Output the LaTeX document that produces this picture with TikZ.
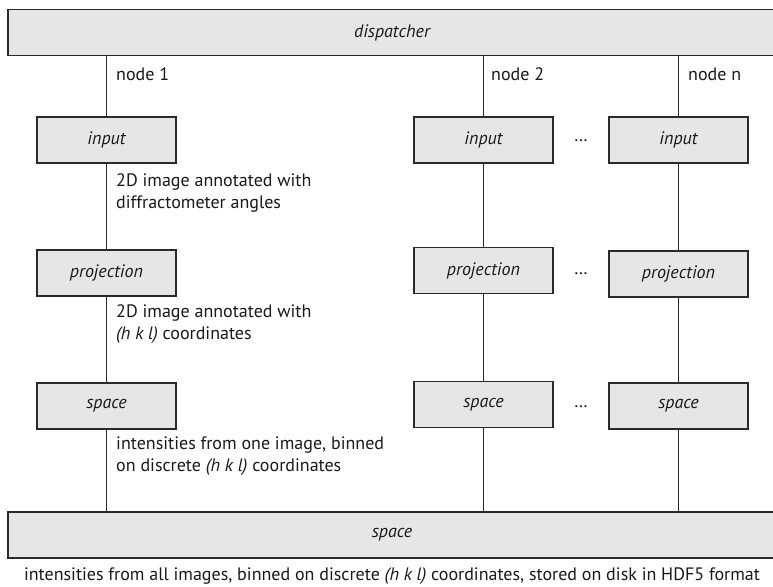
\documentclass[tikz,border=0pt]{standalone}
\usepackage{fontspec}
\setmainfont{PT Sans}
\definecolor{boxfill}{HTML}{E6E6E6}
\definecolor{linec}{HTML}{2A2A2A}
\definecolor{txt}{HTML}{1A1A1A}
\begin{document}
\begin{tikzpicture}[x=1pt,y=-1pt,
  font=\fontsize{18}{21.5}\selectfont,
  stagebox/.style={draw=linec, fill=boxfill, line width=1.15pt, minimum width=139pt, minimum height=46pt, inner sep=0pt, font=\fontsize{18}{21.5}\selectfont\itshape, text=txt},
  widebox/.style={stagebox, minimum width=768pt},
  conn/.style={draw=linec, line width=1.15pt},
  note/.style={anchor=west, align=left, inner sep=0pt, text=txt},
  dots/.style={inner sep=0pt, text=txt}]
\useasboundingbox (0,0) rectangle (773,586);
\clip (0,0) rectangle (773,586);
\fill[white] (0,0) rectangle (773,586);

\node[widebox] (disp) at (392,32.5) {dispatcher};
\node[stagebox] (in1) at (106.5,140) {input};
\node[stagebox] (in2) at (483.5,140) {input};
\node[stagebox] (inn) at (678.5,140) {input};
\node[stagebox] (pr1) at (106.5,273) {projection};
\node[stagebox] (pr2) at (483.5,270.5) {projection};
\node[stagebox] (prn) at (678.5,274) {projection};
\node[stagebox] (sp1) at (106.5,406) {space};
\node[stagebox] (sp2) at (483.5,404.5) {space};
\node[stagebox] (spn) at (678.5,406) {space};
\node[widebox] (all) at (392,535) {space};

\foreach \c in {1,2,n}{
  \draw[conn] (disp.south -| in\c.north) -- (in\c.north);
  \draw[conn] (in\c.south) -- (pr\c.north -| in\c.south);
  \draw[conn] (pr\c.south) -- (sp\c.north -| pr\c.south);
  \draw[conn] (sp\c.south) -- (all.north -| sp\c.south);
}

\node[note] (lab1) at (116,74) {node 1};
\node[note] (lab2) at (491,74) {node 2};
\node[note] (labn) at (688,74) {node n};

\node[note] (t1) at (116,193) {2D image annotated with\\diffractometer angles};
\node[note] (t2) at (116,324) {2D image annotated with\\\textit{(h k l)} coordinates};
\node[note] (t3) at (116,456) {intensities from one image, binned\\on discrete \textit{(h k l)} coordinates};

\node[dots] (d1) at (581,141) {\ldots};
\node[dots] (d2) at (581,274) {\ldots};
\node[dots] (d3) at (581,407) {\ldots};

\node[inner sep=0pt, text=txt] (bottom) at (392,576) {intensities from all images, binned on discrete \textit{(h k l)} coordinates, stored on disk in HDF5 format};
\end{tikzpicture}
\end{document}
